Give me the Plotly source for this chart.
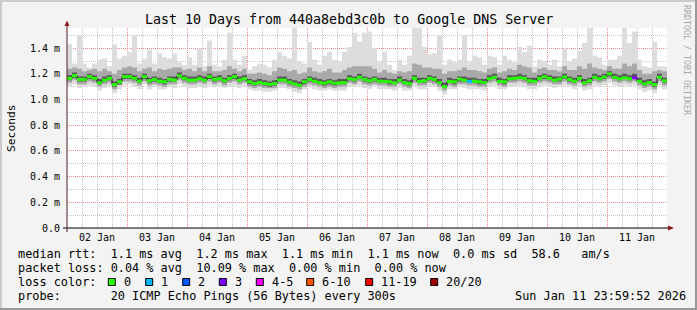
import plotly.graph_objects as go
import pandas as pd

# ---------------- data (ms, one value per 2-hour step, 02 Jan 00:00 -> 12 Jan 00:00) -------------
START = "2026-01-02 00:00"
STEP = "2h"

median = [1.165,1.186,1.157,1.157,1.178,1.165,1.130,1.151,1.165,1.116,
          1.138,1.178,1.178,1.165,1.143,1.178,1.146,1.157,1.143,1.138,
          1.157,1.151,1.184,1.165,1.151,1.151,1.162,1.151,1.178,1.157,
          1.162,1.146,1.165,1.178,1.151,1.162,1.138,1.124,1.132,1.124,
          1.119,1.124,1.151,1.151,1.135,1.122,1.111,1.138,1.157,1.143,
          1.132,1.127,1.138,1.127,1.130,1.132,1.162,1.157,1.173,1.157,
          1.146,1.157,1.143,1.141,1.138,1.130,1.151,1.132,1.124,1.165,
          1.141,1.146,1.165,1.157,1.132,1.100,1.141,1.138,1.159,1.151,
          1.141,1.143,1.138,1.132,1.162,1.173,1.141,1.138,1.162,1.165,
          1.170,1.165,1.146,1.141,1.165,1.178,1.165,1.151,1.159,1.176,
          1.157,1.143,1.165,1.130,1.146,1.173,1.162,1.176,1.200,1.173,
          1.162,1.170,1.162,1.170,1.141,1.122,1.132,1.116,1.173,1.146]

ping_max = [1.43,1.28,1.50,1.28,1.25,1.28,1.31,1.32,1.26,1.43,
            1.32,1.34,1.37,1.50,1.28,1.32,1.39,1.28,1.36,1.33,
            1.32,1.36,1.29,1.27,1.33,1.27,1.40,1.26,1.46,1.27,
            1.26,1.31,1.52,1.31,1.27,1.34,1.23,1.26,1.28,1.27,
            1.25,1.31,1.37,1.34,1.32,1.57,1.30,1.28,1.45,1.31,
            1.27,1.34,1.37,1.31,1.30,1.37,1.41,1.52,1.45,1.52,
            1.53,1.40,1.29,1.37,1.27,1.23,1.31,1.27,1.34,1.58,
            1.58,1.41,1.35,1.36,1.50,1.27,1.31,1.29,1.31,1.50,
            1.29,1.34,1.33,1.27,1.34,1.33,1.27,1.34,1.31,1.29,
            1.41,1.37,1.42,1.26,1.31,1.30,1.27,1.31,1.26,1.40,
            1.30,1.32,1.38,1.44,1.58,1.34,1.33,1.27,1.31,1.31,
            1.34,1.56,1.44,1.53,1.31,1.26,1.25,1.45,1.26,1.26]

ping_p90 = [1.24,1.25,1.24,1.22,1.23,1.24,1.22,1.24,1.22,1.20,
            1.23,1.25,1.26,1.25,1.22,1.24,1.25,1.22,1.24,1.23,
            1.24,1.25,1.25,1.23,1.24,1.22,1.25,1.22,1.26,1.22,
            1.22,1.23,1.26,1.24,1.22,1.24,1.20,1.20,1.21,1.20,
            1.19,1.22,1.25,1.24,1.22,1.23,1.20,1.21,1.25,1.22,
            1.21,1.22,1.24,1.21,1.21,1.23,1.25,1.26,1.26,1.26,
            1.26,1.24,1.21,1.23,1.21,1.20,1.22,1.21,1.22,1.28,
            1.27,1.25,1.25,1.24,1.24,1.20,1.22,1.22,1.23,1.25,
            1.23,1.23,1.22,1.21,1.24,1.25,1.21,1.22,1.24,1.23,
            1.27,1.26,1.25,1.21,1.24,1.25,1.23,1.23,1.22,1.26,
            1.23,1.23,1.26,1.24,1.28,1.25,1.24,1.23,1.26,1.24,
            1.24,1.28,1.26,1.28,1.23,1.20,1.20,1.22,1.23,1.22]

ping_p75 = [1.19,1.21,1.18,1.18,1.20,1.19,1.16,1.18,1.19,1.14,
            1.16,1.20,1.20,1.19,1.17,1.20,1.17,1.18,1.17,1.16,
            1.18,1.18,1.21,1.19,1.18,1.18,1.19,1.18,1.20,1.18,
            1.19,1.17,1.19,1.20,1.18,1.19,1.16,1.15,1.16,1.15,
            1.14,1.15,1.18,1.18,1.16,1.15,1.14,1.16,1.18,1.17,
            1.16,1.15,1.16,1.15,1.16,1.16,1.19,1.18,1.20,1.18,
            1.17,1.18,1.17,1.17,1.16,1.16,1.18,1.16,1.15,1.19,
            1.17,1.17,1.19,1.18,1.16,1.13,1.17,1.16,1.18,1.18,
            1.17,1.17,1.16,1.16,1.19,1.20,1.17,1.16,1.19,1.19,
            1.20,1.19,1.17,1.17,1.19,1.20,1.19,1.18,1.18,1.20,
            1.18,1.17,1.19,1.16,1.17,1.20,1.19,1.20,1.22,1.20,
            1.19,1.20,1.19,1.20,1.17,1.15,1.16,1.14,1.20,1.17]

ping_p25 = [1.15,1.17,1.14,1.14,1.16,1.15,1.12,1.14,1.15,1.10,
            1.12,1.16,1.16,1.15,1.13,1.16,1.13,1.14,1.13,1.12,
            1.14,1.14,1.17,1.15,1.14,1.14,1.15,1.14,1.16,1.14,
            1.15,1.13,1.15,1.16,1.14,1.15,1.12,1.11,1.12,1.11,
            1.10,1.11,1.14,1.14,1.12,1.11,1.10,1.12,1.14,1.13,
            1.12,1.11,1.12,1.11,1.12,1.12,1.15,1.14,1.16,1.14,
            1.13,1.14,1.13,1.13,1.12,1.12,1.14,1.12,1.11,1.15,
            1.13,1.13,1.15,1.14,1.12,1.09,1.13,1.12,1.14,1.14,
            1.13,1.13,1.12,1.12,1.15,1.16,1.13,1.12,1.15,1.15,
            1.16,1.15,1.13,1.13,1.15,1.16,1.15,1.14,1.14,1.16,
            1.14,1.13,1.15,1.12,1.13,1.16,1.15,1.16,1.18,1.16,
            1.15,1.16,1.15,1.16,1.13,1.11,1.12,1.10,1.16,1.13]

ping_p10 = [1.13,1.15,1.12,1.12,1.14,1.13,1.10,1.12,1.13,1.08,
            1.11,1.14,1.14,1.13,1.11,1.14,1.11,1.12,1.11,1.10,
            1.12,1.12,1.15,1.13,1.12,1.12,1.13,1.12,1.14,1.12,
            1.13,1.11,1.13,1.14,1.12,1.13,1.10,1.09,1.10,1.09,
            1.09,1.09,1.12,1.12,1.10,1.09,1.08,1.10,1.12,1.11,
            1.10,1.09,1.10,1.09,1.10,1.10,1.13,1.12,1.14,1.12,
            1.11,1.12,1.11,1.11,1.10,1.10,1.12,1.10,1.09,1.13,
            1.11,1.11,1.13,1.12,1.10,1.07,1.11,1.10,1.12,1.12,
            1.11,1.11,1.10,1.10,1.13,1.14,1.11,1.10,1.13,1.13,
            1.14,1.13,1.11,1.11,1.13,1.14,1.13,1.12,1.12,1.14,
            1.12,1.11,1.13,1.10,1.11,1.14,1.13,1.14,1.16,1.14,
            1.13,1.14,1.13,1.14,1.11,1.09,1.10,1.08,1.14,1.11]

ping_min = [1.10,1.12,1.09,1.10,1.11,1.10,1.07,1.09,1.10,1.05,
            1.08,1.11,1.12,1.10,1.08,1.12,1.08,1.10,1.08,1.08,
            1.10,1.09,1.12,1.10,1.09,1.09,1.10,1.09,1.11,1.10,
            1.10,1.09,1.10,1.11,1.09,1.10,1.08,1.07,1.07,1.06,
            1.06,1.07,1.09,1.09,1.08,1.06,1.05,1.08,1.10,1.08,
            1.07,1.07,1.08,1.07,1.07,1.07,1.10,1.10,1.11,1.09,
            1.08,1.10,1.08,1.08,1.08,1.07,1.09,1.07,1.07,1.10,
            1.08,1.08,1.10,1.10,1.07,1.04,1.08,1.08,1.10,1.09,
            1.08,1.08,1.08,1.07,1.10,1.11,1.08,1.08,1.10,1.10,
            1.11,1.10,1.08,1.08,1.10,1.11,1.10,1.09,1.10,1.11,
            1.10,1.08,1.10,1.07,1.08,1.11,1.10,1.11,1.13,1.11,
            1.10,1.11,1.10,1.11,1.08,1.06,1.07,1.05,1.11,1.08]

loss = [0,0,0,0,0,0,0,0,0,0, 0,0,0,0,0,0,0,0,0,0,
        0,0,0,0,0,0,0,0,0,0, 0,0,0,0,0,0,0,0,0,0,
        0,0,0,0,0,0,0,0,0,0, 0,0,0,0,0,0,0,0,0,0,
        0,0,0,0,0,0,0,0,0,0, 0,0,0,0,0,0,0,0,0,0,
        1,0,0,0,0,0,0,0,0,0, 0,0,0,0,0,0,0,0,0,0,
        0,0,0,0,0,0,0,0,0,0, 0,0,0,3,0,0,0,0,0,0]

loss_labels = ["0", "1", "2", "3", "4-5", "6-10", "11-19", "20/20"]
loss_colors = ["#26ff00", "#00b8ff", "#0059ff", "#7e00ff", "#ff00ff", "#ff5500", "#ff0000", "#a10000"]
loss_level = {0: 0, 1: 1, 2: 2, 3: 3}

y_tickvals = [0.0, 0.2, 0.4, 0.6, 0.8, 1.0, 1.2, 1.4]
y_ticktext = ["0.0", "0.2 m", "0.4 m", "0.6 m", "0.8 m", "1.0 m", "1.2 m", "1.4 m"]

TITLE = "Last 10 Days from 440a8ebd3c0b to Google DNS Server"
LINE1 = "median rtt:  1.1 ms avg  1.2 ms max  1.1 ms min  1.1 ms now  0.0 ms sd  58.6   am/s"
LINE2 = "packet loss: 0.04 % avg  10.09 % max  0.00 % min  0.00 % now"
LINE3 = "loss color:"
LINE4 = "probe:       20 ICMP Echo Pings (56 Bytes) every 300s"
STAMP = "Sun Jan 11 23:59:52 2026"

# ---------------- geometry helpers (pixel -> paper) ----------------
W, H = 697, 310
L, R, T, B = 67, 667, 28, 228
def X(px): return (px - L) / (R - L)
def Y(py): return (B - py) / (B - T)

MONO = "DejaVu Sans Mono"
NB = "\u00a0"
def nb(s): return s.replace(" ", NB)

times = pd.date_range(START, periods=len(median) + 1, freq=STEP)

def ext(a): return list(a) + [a[-1]]

fig = go.Figure()

def band(lo, hi, color):
    fig.add_trace(go.Scatter(x=times, y=ext(lo), mode="lines", line=dict(width=0, shape="hv"),
                             hoverinfo="skip"))
    fig.add_trace(go.Scatter(x=times, y=ext(hi), mode="lines", line=dict(width=0, shape="hv"),
                             fill="tonexty", fillcolor=color, hoverinfo="skip"))

band(ping_min, ping_max, "#dddddd")
band(ping_p10, ping_p90, "#a9a9a9")
band(ping_p25, ping_p75, "#5a5a5a")

# median, black step line
fig.add_trace(go.Scatter(x=times, y=ext(median), mode="lines",
                         line=dict(color="#111111", width=1, shape="hv"), hoverinfo="skip"))

# loss-coloured median segments
for lv in sorted(set(loss)):
    xs, ys = [], []
    for k, m in enumerate(median):
        if loss[k] == lv:
            xs += [times[k], times[k + 1], None]
            ys += [m, m, None]
    fig.add_trace(go.Scatter(x=xs, y=ys, mode="lines",
                             line=dict(color=loss_colors[loss_level[lv]], width=3),
                             hoverinfo="skip"))

shapes = []
# frame (3D shading)
def prect(x0, y0, x1, y1, color):
    shapes.append(dict(type="rect", xref="paper", yref="paper", x0=X(x0), x1=X(x1), y0=Y(y1), y1=Y(y0),
                       fillcolor=color, line=dict(width=0), layer="above"))
prect(0, 0, W, 2, "#cbcbcb")
prect(0, 0, 2, H, "#cbcbcb")
prect(0, H - 2, W, H, "#999999")
prect(W - 2, 0, W, H, "#999999")

# axes lines
shapes.append(dict(type="line", xref="paper", yref="paper", x0=X(63), x1=X(669), y0=Y(228), y1=Y(228),
                   line=dict(color="#000000", width=1), layer="above"))
shapes.append(dict(type="line", xref="paper", yref="paper", x0=X(67), x1=X(67), y0=Y(232), y1=Y(24),
                   line=dict(color="#4a2222", width=1), layer="above"))
# arrows
shapes.append(dict(type="path", xref="paper", yref="paper",
                   path=f"M {X(674)},{Y(228)} L {X(668)},{Y(225.5)} L {X(668)},{Y(230.5)} Z",
                   fillcolor="#8b1a1a", line=dict(width=0), layer="above"))
shapes.append(dict(type="path", xref="paper", yref="paper",
                   path=f"M {X(67)},{Y(20.5)} L {X(64.5)},{Y(26)} L {X(69.5)},{Y(26)} Z",
                   fillcolor="#8b1a1a", line=dict(width=0), layer="above"))

# loss colour legend boxes
box_x = [108.3, 145.7, 182.7, 219.3, 256.3, 306.7, 365.7, 430.7]
for bx, col in zip(box_x, loss_colors):
    shapes.append(dict(type="rect", xref="paper", yref="paper", x0=X(bx), x1=X(bx + 7),
                       y0=Y(285.5), y1=Y(278.5), fillcolor=col, line=dict(color="#000000", width=1)))

ann = []
def text(px, py, s, size=11.85, xanchor="left", color="#000000", angle=0):
    ann.append(dict(xref="paper", yref="paper", x=X(px), y=Y(py), text=nb(s), showarrow=False,
                    xanchor=xanchor, yanchor="middle", textangle=angle,
                    font=dict(family=MONO, size=size, color=color)))

text(348.5, 19, TITLE, size=13.3, xanchor="center")
text(11, 128, "Seconds", size=11.3, xanchor="center", angle=-90)
text(687, 60, "RRDTOOL / TOBI OETIKER", size=8.3, xanchor="center", color="#a8a8a8", angle=90)
text(16, 254.3, LINE1)
text(16, 268.3, LINE2)
text(16, 282, LINE3)
text(16, 296, LINE4)
text(513.3, 296, STAMP)
for bx, lab in zip(box_x, loss_labels):
    text(bx + 13.4, 282, lab)

fig.update_layout(
    width=W, height=H,
    margin=dict(l=L, r=W - R, t=T, b=H - B, pad=0),
    paper_bgcolor="#f3f3f3", plot_bgcolor="#ffffff",
    showlegend=False,
    shapes=shapes, annotations=ann,
    font=dict(family=MONO, size=10, color="#000000"),
)
fig.update_xaxes(
    type="date", range=[times[0], pd.Timestamp("2026-01-12 00:00")],
    tick0="2026-01-02", dtick=86400000, tickformat="%d %b", ticklabelmode="period",
    ticks="", showline=False, zeroline=False,
    showgrid=True, gridcolor="#ec8a8a", gridwidth=1, griddash="1px,1px",
    minor=dict(dtick=6 * 3600000, showgrid=True, gridcolor="#c4c4c4", gridwidth=1, griddash="1px,1px"),
    tickfont=dict(family=MONO, size=10, color="#000000"),
    ticklabelstandoff=2,
)
fig.update_yaxes(
    range=[0, 1.557], tickvals=y_tickvals, ticktext=y_ticktext,
    ticks="", showline=False, zeroline=False,
    showgrid=True, gridcolor="#ec8a8a", gridwidth=1, griddash="1px,1px",
    minor=dict(dtick=0.1, showgrid=True, gridcolor="#c4c4c4", gridwidth=1, griddash="1px,1px"),
    tickfont=dict(family=MONO, size=10, color="#000000"),
    ticklabelstandoff=6,
)

fig.write_html("out.html")
